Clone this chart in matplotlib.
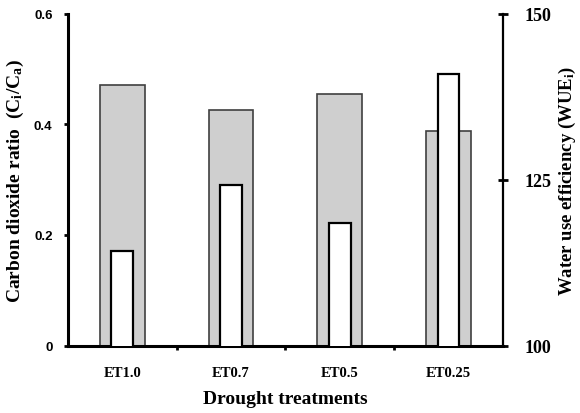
import matplotlib
matplotlib.use("Agg")
import matplotlib.pyplot as plt
import numpy as np

treatments = ["ET1.0", "ET0.7", "ET0.5", "ET0.25"]
ci_ca = [0.471, 0.426, 0.455, 0.388]
wue = [114.2, 124.2, 118.5, 140.9]

plt.rcParams["mathtext.fontset"] = "custom"
plt.rcParams["mathtext.rm"] = "Liberation Serif:bold"
plt.rcParams["mathtext.it"] = "Liberation Serif:bold"
plt.rcParams["mathtext.bf"] = "Liberation Serif:bold"

serif = dict(family="Liberation Serif", weight="bold")

fig = plt.figure(figsize=(5.8, 4.14), dpi=100)
ax = fig.add_axes([0.117, 0.163, 0.750, 0.801])
ax2 = ax.twinx()

x = np.arange(len(treatments))
ax.bar(x, ci_ca, width=0.41, color="#cfcfcf", edgecolor="#404040", linewidth=1.2)
ax2.bar(x, wue, width=0.2, bottom=0, color="white", edgecolor="black", linewidth=1.6)

ax.set_xlim(-0.5, 3.5)
ax.set_ylim(0, 0.6)
ax2.set_ylim(100, 150)

# left axis
ax.set_yticks([0, 0.2, 0.4, 0.6])
ax.set_yticklabels(["0", "0.2", "0.4", "0.6"], family="Liberation Sans", weight="bold", fontsize=9.5)
ax.tick_params(axis="y", direction="out", length=3, width=2, pad=8)
ax.set_ylabel(r"Carbon dioxide ratio  (C$_\mathrm{i}$/C$_\mathrm{a}$)", fontsize=14, labelpad=6, **serif)

# x axis: category labels at centres, tick marks at boundaries
ax.set_xticks(x)
ax.set_xticklabels(treatments, fontsize=10.5, **serif)
ax.tick_params(axis="x", which="major", length=0, pad=15)
ax.set_xticks([0.5, 1.5, 2.5], minor=True)
ax.tick_params(axis="x", which="minor", direction="out", length=3, width=2)
ax.set_xlabel("Drought treatments", fontsize=14, labelpad=8, **serif)

for s in ["top", "right"]:
    ax.spines[s].set_visible(False)
ax.spines["left"].set_linewidth(2.2)
ax.spines["bottom"].set_linewidth(2.2)

# right axis
for s in ["top", "left", "bottom"]:
    ax2.spines[s].set_visible(False)
ax2.spines["right"].set_linewidth(1.6)
ax2.set_yticks([100, 125, 150])
ax2.set_yticklabels(["100", "125", "150"], fontsize=13, **serif)
ax2.tick_params(axis="y", direction="inout", length=7, width=2, pad=12)
ax2.set_ylabel(r"Water use efficiency (WUE$_\mathrm{i}$)", fontsize=13.5, labelpad=4, **serif)

fig.savefig("out.png", dpi=100)
